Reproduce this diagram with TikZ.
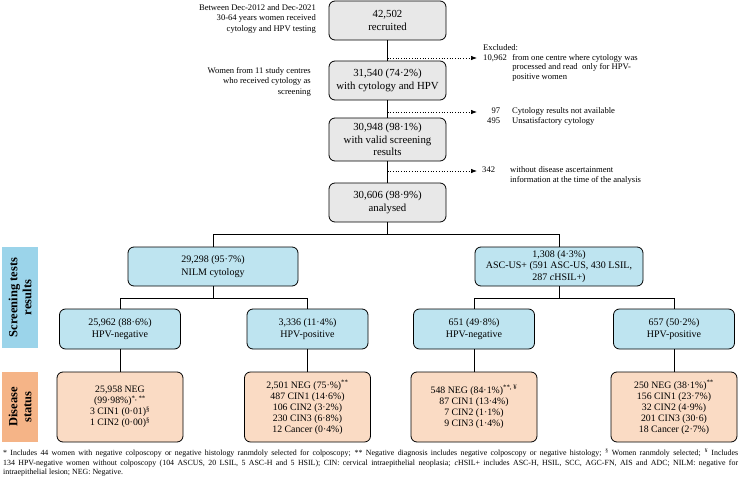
\documentclass[tikz,border=0pt]{standalone}
\usepackage{fontspec}
\setmainfont{Liberation Serif}
\usepackage{tikz}
\usetikzlibrary{arrows.meta}
\usetikzlibrary{calc}
\definecolor{boxgray}{RGB}{232,232,232}
\definecolor{boxblue}{RGB}{190,228,240}
\definecolor{boxorange}{RGB}{250,219,196}
\definecolor{labblue}{RGB}{155,212,234}
\definecolor{laborange}{RGB}{245,180,135}
\newcommand{\fs}[2]{\fontsize{#1}{#2}\selectfont}
\newcommand{\sps}[1]{\textsuperscript{#1}}

\begin{document}
\begin{tikzpicture}[x=1pt,y=-1pt,inner sep=1pt,node distance=60pt,>={Latex[length=6pt,width=4.5pt]},
  gbox/.style={draw,line width=.8pt,rounded corners=6pt,fill=boxgray,minimum width=117pt,minimum height=39pt,align=center,font=\fs{10.8}{12.5}},
  bbox/.style={gbox,fill=boxblue,minimum width=121pt,minimum height=40pt,font=\fs{10}{12.5}},
  obox/.style={bbox,fill=boxorange,minimum width=126pt,minimum height=70pt,font=\fs{9.8}{11}},
  sidelab/.style={rotate=90,minimum height=36pt,align=center,font={\fs{12.5}{14}\bfseries}},
  note/.style={inner sep=0pt,font=\fs{8.6}{10.5}},
  side/.style={inner sep=0pt,anchor=north west,font=\fs{8.6}{9.8}},
  cut/.style={->,dotted,line width=.7pt}]
\useasboundingbox (0,0) rectangle (740,479);

% flow of women
\draw node [gbox] (rec) at (387.5,20.5) {42,502\\recruited};
\draw node [gbox] [below of=rec] (cyt) {31,540 (74·2\%)\\with cytology and HPV};
\draw node [gbox,minimum height=43pt] [below of=cyt,node distance=59pt] (valid) {30,948 (98·1\%)\\with valid screening\\results};
\draw node [gbox] [below of=valid,node distance=63pt] (ana) {30,606 (98·9\%)\\analysed};
\draw (rec) -- (cyt);
\draw (cyt) -- (valid);
\draw (valid) -- (ana);

\draw node [note,anchor=north east,align=right] (period) at (316,4.2) {Between Dec-2012 and Dec-2021\\30-64 years women received\\cytology and HPV testing};
\draw node [note,anchor=north east,align=right] (centres) at (311,67.2) {Women from 11 study centres\\who received cytology as\\screening};

% exclusions
\coordinate (x1) at (477,58);
\coordinate (x2) at (477,112);
\coordinate (x3) at (477,171);
\draw [cut] (rec.south |- x1) -- (x1);
\draw [cut] (cyt.south |- x2) -- (x2);
\draw [cut] (valid.south |- x3) -- (x3);
\draw node [side] (excl) at (483,43.2) {\begin{tabular}{@{}l@{\hspace{5.5pt}}l@{}}\multicolumn{2}{@{}l}{Excluded:}\\10,962 & from one centre where cytology was\\ & processed and read\ \ only for HPV-\\ & positive women\end{tabular}};
\draw node [side] (unav) at (487,106.7) {\begin{tabular}{@{}r@{\hspace{12pt}}l@{}}97 & Cytology results not available\\495 & Unsatisfactory cytology\end{tabular}};
\draw node [side] (miss) at (482,165.7) {\begin{tabular}{@{}r@{\hspace{15pt}}l@{}}342 & without disease ascertainment\\ & information at the time of the analysis\end{tabular}};

% screening tests results
\draw node [bbox,minimum width=170pt,minimum height=39pt] (nilm) at (213,266.5) {29,298 (95·7\%)\\NILM cytology};
\draw node [bbox,minimum width=168pt,minimum height=39pt,font=\fs{10}{11.8}] (ascus) at (559,266.5) {1,308 (4·3\%)\\ASC-US+ (591 ASC-US, 430 LSIL,\\287 \textit{c}HSIL+)};
\draw (ana.south) -- ++(0,12) -| (nilm.north);
\draw (ana.south) -- ++(0,12) -| (ascus.north);

\draw node [bbox] (hneg1) at (120,329) {25,962 (88·6\%)\\HPV-negative};
\draw node [bbox] (hpos1) at (307.5,329) {3,336 (11·4\%)\\HPV-positive};
\draw node [bbox] (hneg2) at (474,329) {651 (49·8\%)\\HPV-negative};
\draw node [bbox] (hpos2) at (674,329) {657 (50·2\%)\\HPV-positive};
\draw (nilm.south) -- ++(0,12) -| (hneg1.north);
\draw (nilm.south) -- ++(0,12) -| (hpos1.north);
\draw (ascus.south) -- ++(0,12) -| (hneg2.north);
\draw (ascus.south) -- ++(0,12) -| (hpos2.north);

% disease status
\draw node [obox] [below of=hneg1,node distance=78pt] (dis1) {25,958 NEG\\(99·98\%)\sps{*, **}\\3 CIN1 (0·01)\sps{§}\\1 CIN2 (0·00)\sps{§}};
\draw node [obox] [below of=hpos1,node distance=78pt] (dis2) {2,501 NEG (75·\%)\sps{**}\\487 CIN1 (14·6\%)\\106 CIN2 (3·2\%)\\230 CIN3 (6·8\%)\\12 Cancer (0·4\%)};
\draw node [obox] [below of=hneg2,node distance=78pt] (dis3) {548 NEG (84·1\%)\sps{**, ¥}\\87 CIN1 (13·4\%)\\7 CIN2 (1·1\%)\\9 CIN3 (1·4\%)};
\draw node [obox] [below of=hpos2,node distance=78pt] (dis4) {250 NEG (38·1\%)\sps{**}\\156 CIN1 (23·7\%)\\32 CIN2 (4·9\%)\\201 CIN3 (30·6)\\18 Cancer (2·7\%)};
\draw (hneg1) -- (dis1);
\draw (hpos1) -- (dis2);
\draw (hneg2) -- (dis3);
\draw (hpos2) -- (dis4);

% row labels
\draw node [sidelab,fill=labblue,minimum width=101pt] (scrlab) at (20,297.5) {Screening tests\\results};
\draw node [sidelab,fill=laborange,minimum width=70pt] (dislab) at (20,407) {Disease\\status};

% footnote
\draw node [inner sep=0pt,anchor=north west,text width=735pt,align=justify,font=\fs{7.9}{9.4}] (foot) at (3,449) {\emergencystretch=2em * Includes 44 women with negative colposcopy or negative histology ranmdoly selected for colposcopy; ** Negative diagnosis includes negative colposcopy or negative histology; \sps{§} Women ranmdoly selected; \sps{¥} Includes\linebreak 134 HPV-negative women without colposcopy (104 ASCUS, 20 LSIL, 5 ASC-H and 5 HSIL); CIN: cervical intraepithelial neoplasia; \textit{c}HSIL+ includes ASC-H, HSIL, SCC, AGC-FN, AIS and ADC; NILM: negative for\linebreak intraepithelial lesion; NEG: Negative.};
\end{tikzpicture}
\end{document}
